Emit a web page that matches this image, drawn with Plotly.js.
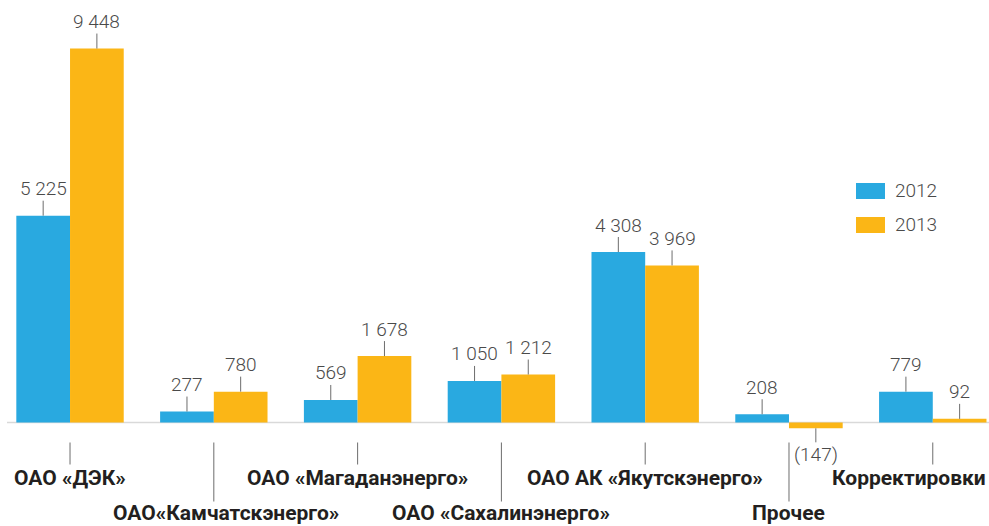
<!DOCTYPE html>
<html>
<head>
<meta charset="utf-8">
<script src="https://cdn.plot.ly/plotly-3.0.1.min.js"></script>
<style>html,body{margin:0;padding:0;background:#fff;}#chart{width:989px;height:526px;}</style>
</head>
<body>
<div id="chart"></div>
<script>
// ---- data ----
const categories = ["ОАО «ДЭК»", "ОАО«Камчатскэнерго»", "ОАО «Магаданэнерго»", "ОАО «Сахалинэнерго»", "ОАО АК «Якутскэнерго»", "Прочее", "Корректировки"];
const seriesNames = ["2012", "2013"];
const values2012 = [5225, 277, 569, 1050, 4308, 208, 779];
const values2013 = [9448, 780, 1678, 1212, 3969, -147, 92];

// ---- style ----
const colors = ["#29a9e0", "#fbb616"];
const valueFont = {family: "Roboto", size: 19, color: "#4a4a4a", weight: 300};
const catFont = {family: "Roboto", size: 21, color: "#231f20", weight: 700};
const bargap = 0.253;
const catRowLow = [false, true, false, true, false, true, false]; // alternating label rows
const catLabelShift = [0, 12, 0, 0, 0, 0, -24];

function fmt(v) {
  const s = Math.abs(v).toString().replace(/\B(?=(\d{3})+(?!\d))/g, " ");
  return v < 0 ? "(" + s + ")" : s;
}

const xIdx = categories.map((c, i) => i);
const traces = [values2012, values2013].map((vals, k) => ({
  type: "bar", x: xIdx, y: vals, name: seriesNames[k],
  marker: {color: colors[k], line: {width: 0}},
  hoverinfo: "skip", showlegend: false
}));

const half = (1 - bargap) / 4; // center offset of each bar within group
const annotations = [];
[values2012, values2013].forEach((vals, k) => {
  vals.forEach((v, i) => {
    const neg = v < 0;
    annotations.push({
      x: i + (k === 0 ? -half : half), y: v, xref: "x", yref: "y",
      text: fmt(v), font: valueFont, showarrow: true, arrowhead: 0,
      arrowwidth: 1, arrowcolor: "#6d6d6d", ax: 0, ay: neg ? 26 : -27, standoff: 0,
      borderpad: 0
    });
  });
});
const shapes = [
  {type: "line", xref: "paper", yref: "y", x0: 7 / 989, x1: 1, y0: 0, y1: 0,
   line: {color: "#d9d9d9", width: 1.5}, layer: "below"}
];
categories.forEach((c, i) => {
  const low = catRowLow[i];
  annotations.push({
    x: i, y: 0, xref: "x", yref: "y", text: "<b>" + c + "</b>", font: catFont,
    showarrow: false, xanchor: "center", yanchor: "middle", borderpad: 0,
    xshift: catLabelShift[i], yshift: low ? -90 : -55
  });
  shapes.push({
    type: "line", xref: "x", yref: "y", x0: i, x1: i,
    ysizemode: "pixel", yanchor: 0, y0: -20, y1: low ? -79 : -42,
    line: {color: "#6d6d6d", width: 1}
  });
});
// legend
const legendTop = [183, 217];
seriesNames.forEach((n, k) => {
  annotations.push({
    xref: "paper", yref: "paper", x: 893 / 989, y: 1 - (legendTop[k] + 8) / 526,
    xanchor: "left", yanchor: "middle", text: n, showarrow: false,
    font: {family: "Roboto", size: 19, color: "#4a4a4a", weight: 300}
  });
  shapes.push({type: "rect", xref: "paper", yref: "paper",
    x0: 856 / 989, x1: 885 / 989, y0: 1 - (legendTop[k] + 16) / 526, y1: 1 - legendTop[k] / 526,
    fillcolor: colors[k], line: {width: 0}});
});

const layout = {
  width: 989, height: 526,
  margin: {l: 0, r: 0, t: 0, b: 0, pad: 0},
  paper_bgcolor: "#fff", plot_bgcolor: "#fff",
  barmode: "group", bargap: bargap, bargroupgap: 0,
  xaxis: {range: [-0.487, 6.391], showticklabels: false, showgrid: false, zeroline: false, ticks: "", showline: false},
  yaxis: {range: [-2615, 10675], showticklabels: false, showgrid: false, zeroline: false, ticks: "", showline: false},
  annotations: annotations, shapes: shapes, showlegend: false
};
Plotly.newPlot("chart", traces, layout, {staticPlot: true, displayModeBar: false});
</script>
</body>
</html>
